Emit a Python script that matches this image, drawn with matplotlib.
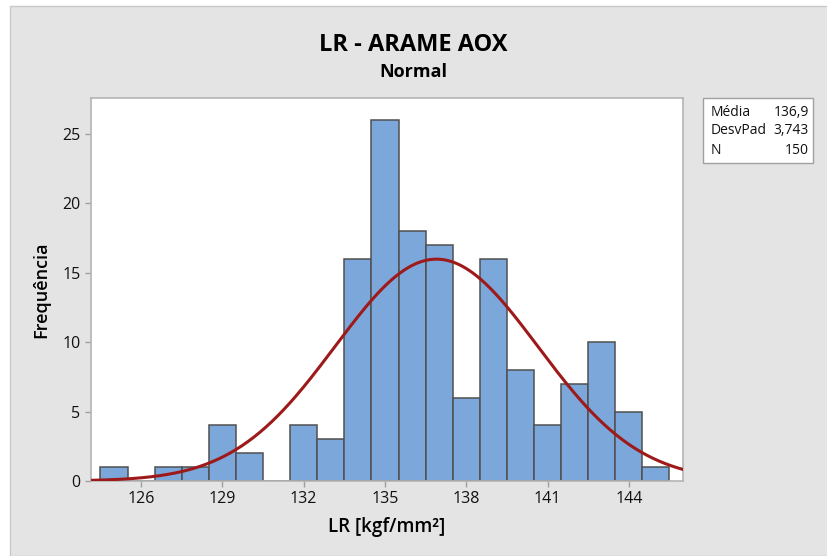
import numpy as np
import matplotlib.pyplot as plt
from matplotlib.patches import Rectangle

plt.rcParams['font.family'] = ['Open Sans', 'DejaVu Sans']

# histogram counts per 1 kgf/mm2 class (class centres)
centros = [125, 126, 127, 128, 129, 130, 131, 132, 133, 134, 135, 136, 137, 138, 139, 140, 141, 142, 143, 144, 145]
contagens = [1, 0, 1, 1, 4, 2, 0, 4, 3, 16, 26, 18, 17, 6, 16, 8, 4, 7, 10, 5, 1]
media = 136.9
desvpad = 3.743
n = 150
largura = 1.0

fig = plt.figure(figsize=(8.27, 5.56), dpi=100)
fig.patch.set_facecolor('white')
fig.add_artist(Rectangle((10 / 827, 0), 1, 1 - 6 / 556, transform=fig.transFigure,
                         facecolor='#e4e4e4', edgecolor='#c8c8c8', lw=1, zorder=-10))

ax = fig.add_axes([91 / 827, 1 - 481 / 556, (683 - 91) / 827, (481 - 98) / 556])
ax.bar(centros, contagens, width=largura, color='#7ba7da', edgecolor='#505050', linewidth=1.1, zorder=2)

xs = np.linspace(124.1, 146.1, 400)
ys = n * largura / (desvpad * np.sqrt(2 * np.pi)) * np.exp(-0.5 * ((xs - media) / desvpad) ** 2)
ax.plot(xs, ys, color='#9e1a1a', lw=2.2, zorder=3)

ax.set_xlim(124.15, 146.0)
ax.set_ylim(0, 27.6)
ax.set_xticks([126, 129, 132, 135, 138, 141, 144])
ax.set_yticks([0, 5, 10, 15, 20, 25])
for s in ax.spines.values():
    s.set_color('#b4b4b4')
    s.set_linewidth(1.2)
ax.tick_params(colors='#a0a0a0', labelcolor='#111111', labelsize=11.5, length=4, width=1)

ax.set_xlabel('LR [kgf/mm²]', fontsize=13.5, fontweight='semibold', labelpad=7)
ax.set_ylabel('Frequência', fontsize=13, fontweight='semibold', labelpad=9)

fig.text(0.5, 1 - 45 / 556, 'LR - ARAME AOX', ha='center', va='center', fontsize=17, fontweight='bold')
fig.text(0.5, 1 - 72 / 556, 'Normal', ha='center', va='center', fontsize=13, fontweight='bold')

# summary box
fig.add_artist(Rectangle((703 / 827, 1 - 163 / 556), 110 / 827, 65 / 556, transform=fig.transFigure,
                         facecolor='white', edgecolor='#a0a0a0', lw=1))
linhas = [('Média', '136,9'), ('DesvPad', '3,743'), ('N', '150')]
for i, (k, v) in enumerate(linhas):
    y = 1 - (112 + i * 19) / 556
    fig.text(711 / 827, y, k, ha='left', va='center', fontsize=10, color='#111111')
    fig.text(809 / 827, y, v, ha='right', va='center', fontsize=10, color='#111111')

fig.savefig('out.png', dpi=100)
